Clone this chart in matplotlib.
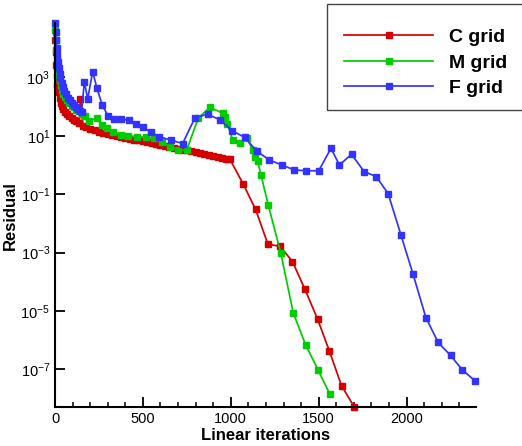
import matplotlib
matplotlib.use("Agg")
import matplotlib.pyplot as plt
from matplotlib.ticker import FixedLocator, MultipleLocator, NullLocator, LogFormatterSciNotation
from matplotlib.patches import Rectangle

plt.rcParams['font.family'] = ['Liberation Sans', 'DejaVu Sans']
plt.rcParams['mathtext.default'] = 'regular'
plt.rcParams['axes.unicode_minus'] = False

# ---------------- data ----------------
c_x = [0, 3, 6, 10, 14, 20, 26, 32, 40, 48, 57, 68, 80, 94, 108, 122, 137, 145, 159,
       175, 200, 225, 250, 275, 300, 325, 350, 375, 400, 425, 450, 475, 500, 525, 550,
       575, 600, 625, 650, 675, 700, 725, 750, 775, 800, 825, 850, 875, 900, 925, 950,
       975, 995, 1071, 1141, 1211, 1281, 1351, 1422, 1494, 1560, 1630, 1702]
c_res = [1.9e4, 7.4e3, 2.6e3, 1.1e3, 550, 315, 196, 137, 105, 80, 65, 54, 47, 40, 35, 31, 27, 187, 21.5,
         19.4, 17.2, 15.3, 13.7, 12.6, 11.4, 10.4, 9.5, 8.9, 8.2, 7.7, 7.2, 6.9, 6.5, 6.1, 5.7,
         5.3, 5.0, 4.6, 4.2, 3.9, 3.65, 3.37, 3.14, 2.92, 2.70, 2.52, 2.34, 2.18, 2.02, 1.87, 1.75,
         1.64, 1.56, 0.22, 0.030, 1.95e-3, 1.62e-3, 4.9e-4, 5.5e-5, 5.2e-6, 4.4e-7, 2.75e-8, 5.2e-9]

m_x = [0, 3, 6, 10, 14, 20, 26, 32, 40, 48, 57, 68, 80, 94, 108, 122, 137, 154, 171, 195,
       237, 266, 294, 332, 374, 417, 465, 516, 563, 607, 654, 701, 749, 815, 881, 954, 967,
       980, 1011, 1052, 1090, 1128, 1137, 1153, 1172, 1213, 1285, 1355, 1426, 1496, 1564]
m_res = [4.2e4, 1.9e4, 8.6e3, 3.9e3, 2.1e3, 1.2e3, 810, 550, 370, 270, 213, 162, 132, 108, 93, 79, 68, 55, 47, 32,
         40, 23.5, 18.8, 13.7, 10.5, 9.8, 9.3, 8.9, 8.2, 6.2, 4.2, 3.2, 3.2, 40, 94, 59, 45,
         26, 7.1, 5.5, 8.1, 3.2, 1.9, 1.35, 0.45, 0.043, 9.3e-4, 8.7e-6, 6.9e-7, 9.6e-8, 1.4e-8]

f_x = [0, 3, 6, 9, 11, 15, 20, 26, 31, 38, 46, 54, 63, 74, 85, 97, 108, 119, 131, 142, 151,
       167, 186, 214, 239, 269, 303, 337, 378, 421, 463, 499, 544, 593, 658, 726, 796, 868,
       938, 1008, 1080, 1147, 1219, 1290, 1359, 1427, 1500, 1570, 1618, 1687, 1759, 1827,
       1895, 1968, 2037, 2110, 2180, 2250, 2318, 2388]
f_res = [7.2e4, 3.5e4, 1.9e4, 1.0e4, 5.8e3, 3.3e3, 2.1e3, 1.35e3, 950, 630, 470, 340, 270, 200, 165, 135, 112, 95, 81, 72, 65,
         710, 180, 1550, 420, 110, 47, 37, 37, 34, 26, 19.5, 13.5, 9.3, 7.1, 5.4, 41, 55,
         35, 14.8, 8.7, 3.0, 1.48, 1.0, 0.68, 0.63, 0.63, 3.7, 1.0, 2.3, 0.59, 0.40,
         0.105, 4.0e-3, 1.8e-4, 5.9e-6, 8.3e-7, 3.0e-7, 9.5e-8, 4.1e-8]

series_labels = ["C grid", "M grid", "F grid"]
colors = ["#d40000", "#00cc00", "#3333ff"]

x_ticks = [0, 500, 1000, 1500, 2000]
y_ticks = [1e-7, 1e-5, 1e-3, 1e-1, 1e1, 1e3]

# ---------------- figure ----------------
W, H = 522, 446
fig = plt.figure(figsize=(W / 100, H / 100), dpi=100)
ax = fig.add_axes([55 / W, (H - 407.3) / H, (476 - 55) / W, (407.3 - 23) / H])

lines = []
for xs, ys, lab, col in zip([c_x, m_x, f_x], [c_res, m_res, f_res], series_labels, colors):
    ln, = ax.plot(xs, ys, '-s', color=col, lw=1.25, ms=3.7, mec=col, mfc=col,
                  label=lab, clip_on=False)
    lines.append(ln)

ax.set_yscale('log')
ax.set_xlim(0, 2395)
ax.set_ylim(10 ** -8.30, 10 ** 4.86)

ax.xaxis.set_major_locator(FixedLocator(x_ticks))
ax.xaxis.set_minor_locator(MultipleLocator(100))
ax.yaxis.set_major_locator(FixedLocator(y_ticks))
ax.yaxis.set_major_formatter(LogFormatterSciNotation())
ax.yaxis.set_minor_locator(NullLocator())

for s in ['top', 'right']:
    ax.spines[s].set_visible(False)
for s in ['left', 'bottom']:
    ax.spines[s].set_linewidth(1.5)

ax.tick_params(which='major', direction='in', length=7, width=1.3, labelsize=10.5, pad=3.5)
ax.tick_params(which='minor', direction='in', length=3.5, width=1.1)
ax.tick_params(top=False, right=False)

ax.set_xlabel("Linear iterations", fontsize=12, fontweight='bold', labelpad=1)
ax.set_ylabel("Residual", fontsize=12, fontweight='bold', labelpad=2)

# legend frame (extends past the right edge)
fig.patches.append(Rectangle((327 / W, (H - 110) / H), 220 / W, 106 / H,
                             transform=fig.transFigure, fill=False,
                             edgecolor='#444444', linewidth=1.0))
leg = fig.legend(handles=lines, labels=series_labels, loc='upper left',
                 bbox_to_anchor=(344 / W, (H - 28.5) / H), bbox_transform=fig.transFigure,
                 frameon=False, borderpad=0, borderaxespad=0,
                 handlelength=4.6, handletextpad=0.82, labelspacing=0.4, numpoints=1,
                 prop={'weight': 'bold', 'size': 14})

fig.savefig("out.png", dpi=100)
